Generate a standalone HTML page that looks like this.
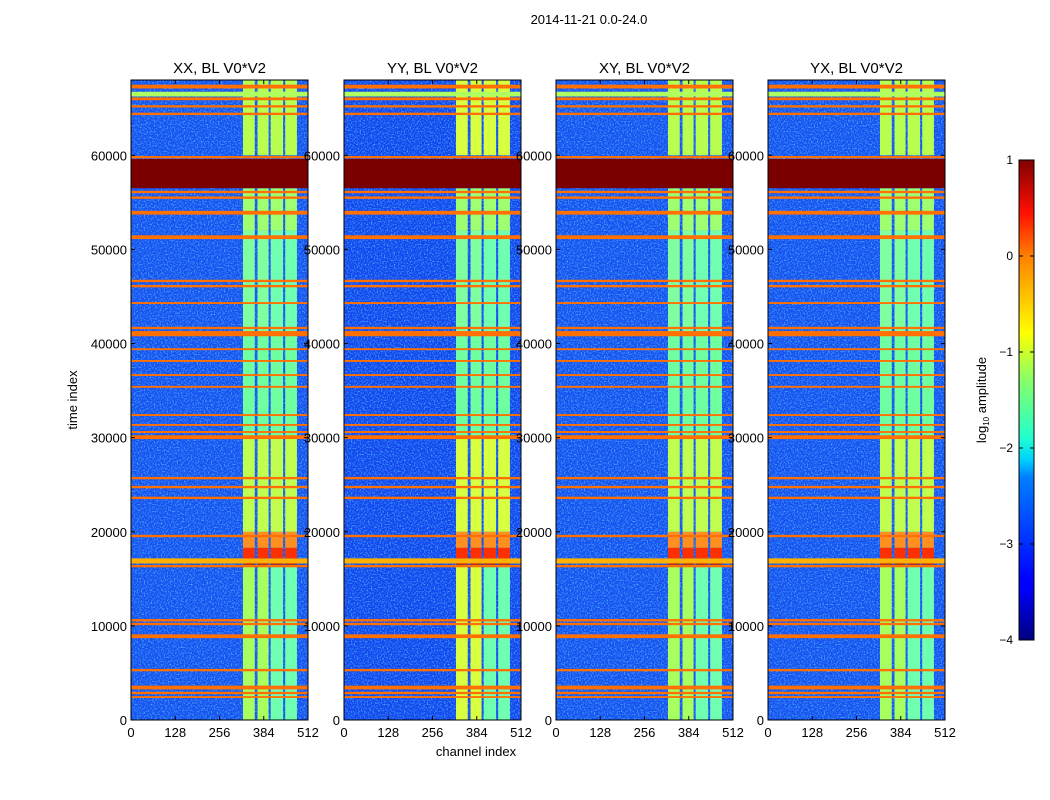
<!DOCTYPE html>
<html><head><meta charset="utf-8"><style>
html,body{margin:0;padding:0;background:#fff;width:1050px;height:800px;overflow:hidden}
svg{font-family:"Liberation Sans","DejaVu Sans",sans-serif}
</style></head><body>
<svg id="c" width="1050" height="800" viewBox="0 0 1050 800" xmlns="http://www.w3.org/2000/svg">
<defs>
<linearGradient id="jet" x1="0" y1="1" x2="0" y2="0">
<stop offset="0" stop-color="#000080"/><stop offset="0.11" stop-color="#0000ff"/><stop offset="0.125" stop-color="#0000ff"/>
<stop offset="0.34" stop-color="#0080ff"/><stop offset="0.375" stop-color="#00d0ff"/><stop offset="0.42" stop-color="#20ffd0"/>
<stop offset="0.55" stop-color="#90ff60"/><stop offset="0.64" stop-color="#ffff00"/><stop offset="0.8" stop-color="#ff8000"/>
<stop offset="0.89" stop-color="#ff1000"/><stop offset="1" stop-color="#800000"/>
</linearGradient>
<filter id="noise" x="0" y="0" width="100%" height="100%">
<feTurbulence type="fractalNoise" baseFrequency="0.7" numOctaves="1" seed="3"/>
<feColorMatrix values="0 0 0 0 0.1  0 0 0 0 0.75  0 0 0 0 1  0 0 0 3 -1.4"/>
</filter>
</defs>
<text x="589" y="24" font-size="13" text-anchor="middle">2014-11-21 0.0-24.0</text>
<text x="476" y="756" font-size="13" text-anchor="middle">channel index</text>
<text transform="translate(77,400) rotate(-90)" font-size="13" text-anchor="middle">time index</text>
<g id="panels"></g>
<g>
<rect x="1019" y="160" width="15" height="480" fill="url(#jet)" stroke="#000" stroke-width="1"/>
<text transform="translate(986,400) rotate(-90)" font-size="13" text-anchor="middle">log<tspan font-size="8" dy="3">10</tspan><tspan dy="-3"> amplitude</tspan></text>
<g id="cbticks"></g>
</g>
</svg>
<script>
const NS="http://www.w3.org/2000/svg";
const panelTitles=["XX, BL V0*V2","YY, BL V0*V2","XY, BL V0*V2","YX, BL V0*V2"];
const xTicks=[0,128,256,384,512];
const yTicks=[0,10000,20000,30000,40000,50000,60000];
const cbTicks=[1,0,-1,-2,-3,-4];
// horizontal RFI lines: time center, thickness (time units), colour
const lineTimes=[67300,66500,66000,65200,64400,59800,56100,55500,53900,51300,46650,46100,44300,41650,41050,39400,38150,36650,35400,32400,31350,30600,30050,25700,24750,23600,19550,16900,16350,10600,10200,8900,5300,3450,2870,2440];
const lineWidths=[400,500,300,250,250,250,250,250,400,400,250,250,200,250,550,200,200,200,200,200,200,200,400,250,250,250,250,550,250,250,250,400,250,400,250,200];
const lineColors=["#ff7000","#b0ff60","#ff7000","#ff7000","#ff7000","#ff7000","#ff7000","#ff7000","#ff7000","#ff7000","#ff7000","#ff7000","#ff7000","#ff7000","#ff7000","#ff7000","#ff7000","#ff7000","#ff7000","#ff7000","#ff7000","#ff7000","#ff7000","#ff7000","#ff7000","#ff7000","#ff7000","#ffb000","#ff7000","#ff7000","#ff7000","#ff7000","#ff7000","#ff7000","#ff7000","#ff7000"];
// saturated block
const blockStart=56500, blockEnd=59600;
// vertical bands (channels)
const bandStart=[324,366,404,446];
const bandEnd=[358,398,440,480];
// band time segments & colours
const segStart=[0,16500,17200,18300,20000,30000,41000,52000,60000];
const segEnd=[16500,17200,18300,20000,30000,41000,52000,56500,68000];
const segColor=["#a8ff60","#b00000","#ff3000","#ff9020","#c0ff50","#70ffa0","#80ffa0","#a0ff70","#b8ff50"];
const ymax=68000;

const PX=[131,344,556,768], PW=177, PT=80, PH=640;
const panels=document.getElementById('panels');
function mk(tag,attrs,parent){const e=document.createElementNS(NS,tag);for(const k in attrs)e.setAttribute(k,attrs[k]);parent.appendChild(e);return e;}
for(let p=0;p<4;p++){
  const x0=PX[p];
  const sx=c=>x0+c/512*PW;
  const sy=t=>PT+PH-t/ymax*PH;
  const g=mk('g',{},panels);
  
  
  const bg=mk('rect',{x:x0,y:PT,width:PW,height:PH,fill:p==1?'#1445ee':'#1850f0'},g);
  
  
  const nz=mk('rect',{x:x0,y:PT,width:PW,height:PH,filter:'url(#noise)',opacity:0.7},g);
  
  
  for(let b=0;b<bandStart.length;b++){
    for(let s=0;s<segStart.length;s++){
      let col=segColor[s];
      if(p==1&&(s==0||s==4||s==8))col='#d8ff40';
      if(b>=2&&(s==0||s==6))col='#70ffb0';
      const r=mk('rect',{x:sx(bandStart[b]),y:sy(segEnd[s]),width:sx(bandEnd[b])-sx(bandStart[b]),height:sy(segStart[s])-sy(segEnd[s]),fill:col},g);
      
      
    }
  }
  for(let i=0;i<lineTimes.length;i++){
    const t=lineTimes[i],w=lineWidths[i];
    const r=mk('rect',{x:x0,y:sy(t+w/2),width:PW,height:Math.max(1,sy(t-w/2)-sy(t+w/2)),fill:lineColors[i]},g);
    
    
  }
  const blk=mk('rect',{x:x0,y:sy(blockEnd),width:PW,height:sy(blockStart)-sy(blockEnd),fill:'#7a0000'},g);
  
  
  const fr=mk('rect',{x:x0,y:PT,width:PW,height:PH,fill:'none',stroke:'#000','stroke-width':1},g);
  
  
  const ti=mk('text',{x:x0+PW/2,y:73,'font-size':15,'text-anchor':'middle'},g);
  ti.textContent=panelTitles[p];
  
  
  for(const v of xTicks){
    const x=sx(v);
    mk('line',{x1:x,x2:x,y1:PT+PH,y2:PT+PH-4,stroke:'#000'},g);
    mk('line',{x1:x,x2:x,y1:PT,y2:PT+4,stroke:'#000'},g);
    const t=mk('text',{x:x,y:PT+PH+17,'font-size':13,'text-anchor':'middle'},g);
    t.textContent=v;
    
    
  }
  for(const v of yTicks){
    const y=sy(v);
    mk('line',{x1:x0,x2:x0+4,y1:y,y2:y,stroke:'#000'},g);
    mk('line',{x1:x0+PW,x2:x0+PW-4,y1:y,y2:y,stroke:'#000'},g);
    const t=mk('text',{x:x0-4,y:y+5,'font-size':13,'text-anchor':'end'},g);
    t.textContent=v;
    
    
  }
}
const cbg=document.getElementById('cbticks');
for(const v of cbTicks){
  const y=160+(1-v)/5*480;
  mk('line',{x1:1019,x2:1023,y1:y,y2:y,stroke:'#000'},cbg);
  mk('line',{x1:1034,x2:1030,y1:y,y2:y,stroke:'#000'},cbg);
  const t=mk('text',{x:1013,y:y+4,'font-size':12,'text-anchor':'end'},cbg);
  t.textContent=v<0?'\u2212'+(-v):String(v);
  
  
}
</script>
</body></html>
